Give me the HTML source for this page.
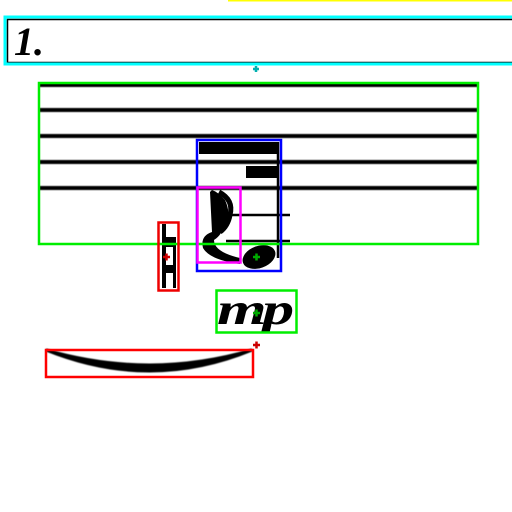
<!DOCTYPE html>
<html><head><meta charset="utf-8"><style>
html,body{margin:0;padding:0;background:#fff;width:512px;height:512px;overflow:hidden}
</style></head><body>
<svg width="512" height="512" viewBox="0 0 512 512">
<defs><filter id="bl"><feGaussianBlur stdDeviation="0.6"/></filter></defs>
<line x1="228" y1="0.5" x2="512" y2="0.5" stroke="#ffff00" stroke-width="2"/>
<g>
<rect x="7.5" y="19.5" width="510" height="43" fill="none" stroke="#000" stroke-width="1.5"/>
<text x="14" y="55" font-family="Liberation Serif, serif" font-weight="bold" font-style="italic" font-size="40" fill="#000">1.</text>
<rect x="5" y="17" width="512" height="47" fill="none" stroke="#00ffff" stroke-width="3"/>
<path d="M253 69h6M256 66v6" stroke="#00b0b0" stroke-width="2.5"/>
</g>
<g stroke="#000" stroke-width="4" filter="url(#bl)">
<line x1="39" y1="85" x2="478" y2="85"/>
<line x1="39" y1="110" x2="478" y2="110"/>
<line x1="39" y1="136" x2="478" y2="136"/>
<line x1="39" y1="162" x2="478" y2="162"/>
<line x1="39" y1="188" x2="478" y2="188"/>
</g>
<g>
<rect x="199" y="142" width="79" height="12" fill="#000"/>
<rect x="246" y="166" width="32" height="12" fill="#000"/>
<line x1="278" y1="142" x2="278" y2="258" stroke="#000" stroke-width="2.5"/>
<line x1="228" y1="215" x2="290" y2="215" stroke="#000" stroke-width="2.5"/>
<line x1="226" y1="241" x2="290" y2="241" stroke="#000" stroke-width="2.5"/>
<ellipse cx="259" cy="257" rx="17" ry="11" transform="rotate(-20 259 257)" fill="#000"/>
<path d="M210 192 L212 232 Q200 236 203 248 Q210 260 240 264 L240 258 Q214 252 214 240 Q222 235 224 225 Q232 215 225 200 Q218 192 212 190 Z" fill="#000"/>
<path d="M219 192 Q234 200 230 215 Q228 226 220 232" stroke="#000" stroke-width="5" fill="none"/>
</g>
<g>
<rect x="162" y="224" width="4" height="64" fill="#000"/>
<rect x="162" y="237" width="14" height="10" fill="#000"/>
<rect x="162" y="265" width="12" height="8" fill="#000"/>
<rect x="173" y="240" width="3" height="48" fill="#000"/>
</g>
<g transform="translate(217,324) scale(1.45,1)">
<text x="0" y="0" font-family="Liberation Serif, serif" font-weight="bold" font-style="italic" font-size="44" fill="#000" letter-spacing="-3">mp</text>
</g>
<path d="M46 350 Q150 392 252 350 Q150 380 46 350 Z" fill="#000" stroke="#000" stroke-width="3" filter="url(#bl)"/>
<rect x="39" y="83" width="439" height="161" fill="none" stroke="#00ee00" stroke-width="2.5"/>
<rect x="197" y="140" width="84" height="131" fill="none" stroke="#0000ff" stroke-width="2.5"/>
<rect x="197.5" y="187.5" width="43" height="75" fill="none" stroke="#ff00ff" stroke-width="2.5"/>
<rect x="158.5" y="222.5" width="20" height="68" fill="none" stroke="#ee0000" stroke-width="2.5"/>
<rect x="216.5" y="290.5" width="80" height="42" fill="none" stroke="#00ee00" stroke-width="2.5"/>
<rect x="46" y="350" width="207" height="27" fill="none" stroke="#ff0000" stroke-width="2.5"/>
<path d="M253 257h7M256.5 253.5v7M253 313h7M256.5 309.5v7" stroke="#00aa00" stroke-width="2.5"/>
<path d="M163 257h7M166.5 253.5v7M253 345h7M256.5 341.5v7" stroke="#cc0000" stroke-width="2.5"/>
</svg>
</body></html>
